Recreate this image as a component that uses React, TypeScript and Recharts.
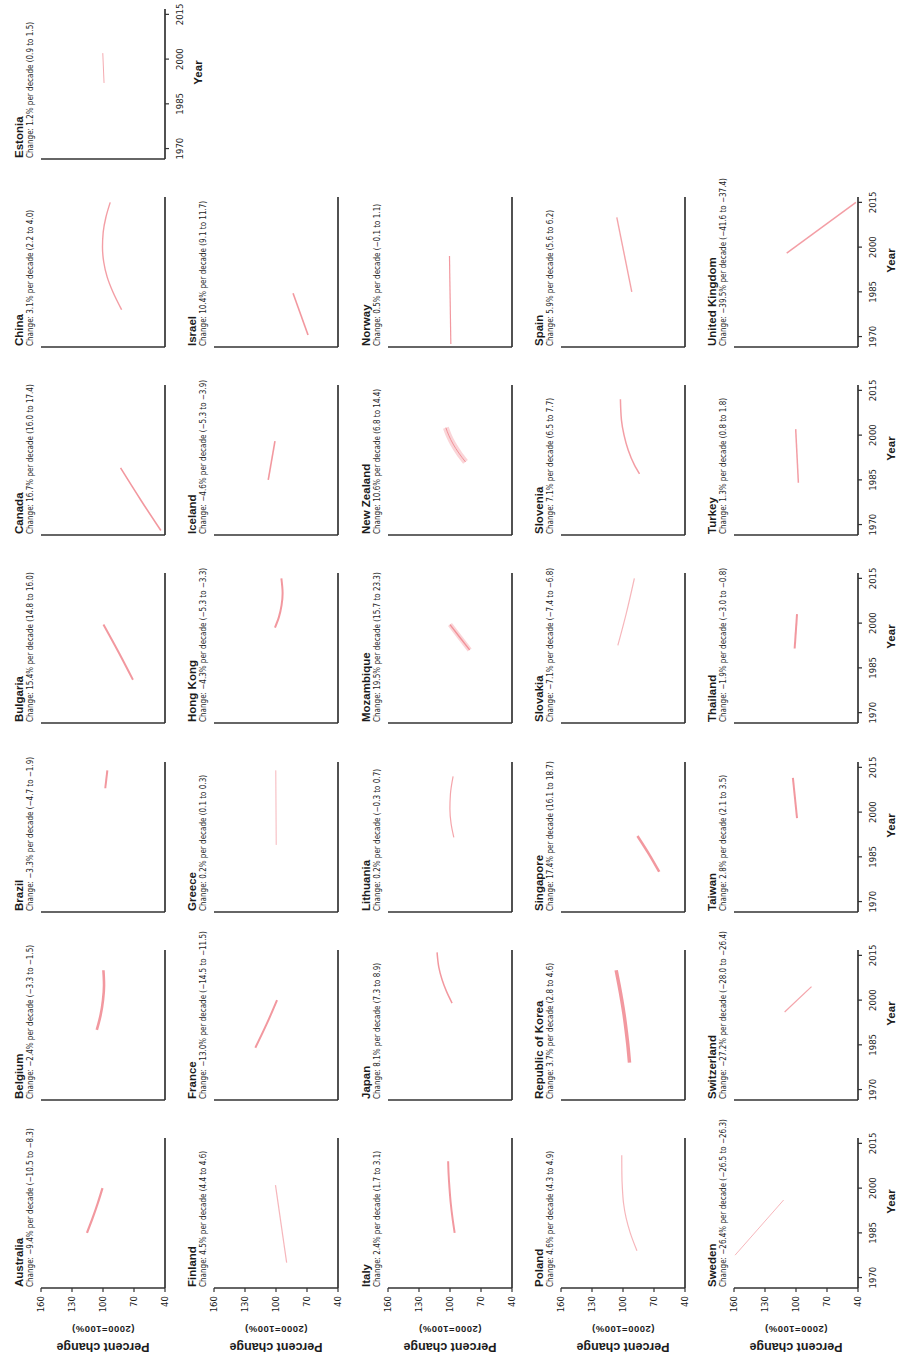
import { Line, LineChart, XAxis, YAxis } from 'recharts';

type Pt = [number, number];

// [year, percent of 2000 level]
const AUSTRALIA: Pt[] = [[1985, 115.5], [1990, 110], [1995, 105], [2000, 100.5]];
const BELGIUM: Pt[] = [[1990, 106], [1995, 102.3], [2000, 100], [2005, 99], [2010, 99.6]];
const BRAZIL: Pt[] = [[2008, 97.8], [2014, 95.8]];
const BULGARIA: Pt[] = [[1981, 71], [1990, 84.5], [1999.5, 99.5]];
const CANADA: Pt[] = [[1968, 44], [1978, 63], [1989, 83]];
const CHINA: Pt[] = [[1979, 82], [1985, 90.5], [1990, 96], [1995, 99.3], [2000, 100.5], [2005, 99.8], [2010, 97.2], [2015, 93]];
const ESTONIA: Pt[] = [[1992, 99], [2002, 100.2]];
const FINLAND: Pt[] = [[1975, 89.7], [2001, 100.5]];
const FRANCE: Pt[] = [[1984, 120], [1992, 109], [2000, 99]];
const GREECE: Pt[] = [[1989, 99.8], [2014, 100.2]];
const HONG_KONG: Pt[] = [[1998.5, 101], [2002, 97.2], [2006, 94.6], [2010, 93.6], [2015, 94.8]];
const ICELAND: Pt[] = [[1985, 107.5], [1998, 101]];
const ISRAEL: Pt[] = [[1970.5, 69], [1984.5, 83.5]];
const ITALY: Pt[] = [[1985, 95.5], [1990, 97.6], [1995, 99.3], [2000, 100.5], [2005, 101.4], [2009, 101.8]];
const JAPAN: Pt[] = [[1999, 98], [2003, 103.5], [2007, 107.8], [2011, 110.8], [2016, 112.5]];
const LITHUANIA: Pt[] = [[1991.5, 96.3], [1996, 98.9], [2001, 100.1], [2006, 99.6], [2012, 97]];
const MOZAMBIQUE: Pt[] = [[1991, 81], [1995, 90], [1999.5, 100]];
const NEW_ZEALAND: Pt[] = [[1991, 85], [1994, 91.5], [1997, 97], [2000, 101.3], [2002.5, 104]];
const NORWAY: Pt[] = [[1967.5, 99.2], [1997, 100.5]];
const POLAND: Pt[] = [[1979, 86.5], [1985, 93], [1990, 97], [1995, 99.5], [2000, 100.6], [2005, 101.1], [2011, 101.2]];
const KOREA: Pt[] = [[1979, 93.7], [1985, 95.3], [1990, 97], [1995, 98.9], [2000, 101.2], [2005, 103.8], [2010, 106.6]];
const SINGAPORE: Pt[] = [[1980, 65], [1986, 75], [1992, 86]];
const SLOVAKIA: Pt[] = [[1992.5, 105], [2003, 97], [2015, 89]];
const SLOVENIA: Pt[] = [[1987, 84], [1990, 89], [1995, 95], [2000, 99], [2005, 101.5], [2012, 102.5]];
const SPAIN: Pt[] = [[1985, 91.5], [2010, 106]];
const SWEDEN: Pt[] = [[1977.5, 159], [1996, 112]];
const SWITZERLAND: Pt[] = [[1996, 111], [2004.5, 85]];
const TAIWAN: Pt[] = [[1998, 99], [2011.5, 103]];
const THAILAND: Pt[] = [[1991.5, 101.3], [2003, 99]];
const TURKEY: Pt[] = [[1984, 97.7], [2002, 100.3]];
const UNITED_KINGDOM: Pt[] = [[1998, 109], [2015, 42]];

const ROWS: string[][] = [
  ['Australia', 'Belgium', 'Brazil', 'Bulgaria', 'Canada', 'China', 'Estonia'],
  ['Finland', 'France', 'Greece', 'Hong Kong', 'Iceland', 'Israel'],
  ['Italy', 'Japan', 'Lithuania', 'Mozambique', 'New Zealand', 'Norway'],
  ['Poland', 'Republic of Korea', 'Singapore', 'Slovakia', 'Slovenia', 'Spain'],
  ['Sweden', 'Switzerland', 'Taiwan', 'Thailand', 'Turkey', 'United Kingdom'],
];

const SERIES: Record<string, Pt[]> = {
  Australia: AUSTRALIA, Belgium: BELGIUM, Brazil: BRAZIL, Bulgaria: BULGARIA, Canada: CANADA,
  China: CHINA, Estonia: ESTONIA, Finland: FINLAND, France: FRANCE, Greece: GREECE,
  'Hong Kong': HONG_KONG, Iceland: ICELAND, Israel: ISRAEL, Italy: ITALY, Japan: JAPAN,
  Lithuania: LITHUANIA, Mozambique: MOZAMBIQUE, 'New Zealand': NEW_ZEALAND, Norway: NORWAY,
  Poland: POLAND, 'Republic of Korea': KOREA, Singapore: SINGAPORE, Slovakia: SLOVAKIA,
  Slovenia: SLOVENIA, Spain: SPAIN, Sweden: SWEDEN, Switzerland: SWITZERLAND, Taiwan: TAIWAN,
  Thailand: THAILAND, Turkey: TURKEY, 'United Kingdom': UNITED_KINGDOM,
};

const CHANGES: Record<string, string> = {
  Australia: 'Change: −9.4% per decade (−10.5 to −8.3)',
  Belgium: 'Change: −2.4% per decade (−3.3 to −1.5)',
  Brazil: 'Change: −3.3% per decade (−4.7 to −1.9)',
  Bulgaria: 'Change: 15.4% per decade (14.8 to 16.0)',
  Canada: 'Change: 16.7% per decade (16.0 to 17.4)',
  China: 'Change: 3.1% per decade (2.2 to 4.0)',
  Estonia: 'Change: 1.2% per decade (0.9 to 1.5)',
  Finland: 'Change: 4.5% per decade (4.4 to 4.6)',
  France: 'Change: −13.0% per decade (−14.5 to −11.5)',
  Greece: 'Change: 0.2% per decade (0.1 to 0.3)',
  'Hong Kong': 'Change: −4.3% per decade (−5.3 to −3.3)',
  Iceland: 'Change: −4.6% per decade (−5.3 to −3.9)',
  Israel: 'Change: 10.4% per decade (9.1 to 11.7)',
  Italy: 'Change: 2.4% per decade (1.7 to 3.1)',
  Japan: 'Change: 8.1% per decade (7.3 to 8.9)',
  Lithuania: 'Change: 0.2% per decade (−0.3 to 0.7)',
  Mozambique: 'Change: 19.5% per decade (15.7 to 23.3)',
  'New Zealand': 'Change: 10.6% per decade (6.8 to 14.4)',
  Norway: 'Change: 0.5% per decade (−0.1 to 1.1)',
  Poland: 'Change: 4.6% per decade (4.3 to 4.9)',
  'Republic of Korea': 'Change: 3.7% per decade (2.8 to 4.6)',
  Singapore: 'Change: 17.4% per decade (16.1 to 18.7)',
  Slovakia: 'Change: −7.1% per decade (−7.4 to −6.8)',
  Slovenia: 'Change: 7.1% per decade (6.5 to 7.7)',
  Spain: 'Change: 5.9% per decade (5.6 to 6.2)',
  Sweden: 'Change: −26.4% per decade (−26.5 to −26.3)',
  Switzerland: 'Change: −27.2% per decade (−28.0 to −26.4)',
  Taiwan: 'Change: 2.8% per decade (2.1 to 3.5)',
  Thailand: 'Change: −1.9% per decade (−3.0 to −0.8)',
  Turkey: 'Change: 1.3% per decade (0.8 to 1.8)',
  'United Kingdom': 'Change: −39.5% per decade (−41.6 to −37.4)',
};

const YEAR_TICKS = [1970, 1985, 2000, 2015];
const PCT_TICKS = [40, 70, 100, 130, 160];
const YEAR_DOMAIN: [number, number] = [1966.5, 2016.8];

// line look per country: width, opacity, optional wide band behind
const LOOK: Record<string, { w: number; o: number; band?: number }> = {
  Australia: { w: 2.2, o: 0.85 }, Belgium: { w: 2.6, o: 0.85 }, Brazil: { w: 2, o: 0.85 },
  Bulgaria: { w: 2, o: 0.85 }, Canada: { w: 1.6, o: 0.85 }, China: { w: 1.4, o: 0.8 },
  Estonia: { w: 1, o: 0.7 }, Finland: { w: 1.2, o: 0.6 }, France: { w: 2, o: 0.85 },
  Greece: { w: 1, o: 0.6 }, 'Hong Kong': { w: 2, o: 0.85 }, Iceland: { w: 1.6, o: 0.85 },
  Israel: { w: 1.6, o: 0.85 }, Italy: { w: 2, o: 0.85 }, Japan: { w: 1.5, o: 0.85 },
  Lithuania: { w: 1.2, o: 0.75 }, Mozambique: { w: 1.4, o: 0.85, band: 5 },
  'New Zealand': { w: 1, o: 0.85, band: 6 }, Norway: { w: 1.2, o: 0.85 }, Poland: { w: 1.2, o: 0.6 },
  'Republic of Korea': { w: 3.5, o: 0.85 }, Singapore: { w: 2.5, o: 0.85 }, Slovakia: { w: 1.2, o: 0.6 },
  Slovenia: { w: 1.5, o: 0.8 }, Spain: { w: 1.4, o: 0.75 }, Sweden: { w: 1, o: 0.6 },
  Switzerland: { w: 1.2, o: 0.75 }, Taiwan: { w: 2, o: 0.85 }, Thailand: { w: 2, o: 0.85 },
  Turkey: { w: 1.5, o: 0.8 }, 'United Kingdom': { w: 1.5, o: 0.8 },
};

const FIG_W = 1359;
const FIG_H = 897;
const BOX_W = 150;
const BOX_H = 124;
const COL_STEP = 188.2;
const ROW_STEP = 173.3;
const LEFT0 = 71;
const TOP0 = 41;
const YW = 40;
const MT = 10;
const MR = 16;
const XH = 40;
const AXIS = '#333333';
const INK = '#1c1c1c';
const PINK = '#f0868e';
const NARROW = "'Liberation Sans Narrow', 'DejaVu Sans Condensed', 'Liberation Sans', sans-serif";
const SANS = "'Liberation Sans', Arial, sans-serif";

const yearX = (year: number) => ((year - YEAR_DOMAIN[0]) / (YEAR_DOMAIN[1] - YEAR_DOMAIN[0])) * BOX_W;

function Panel({ name, row, col }: { name: string; row: number; col: number }) {
  const left = Math.round(LEFT0 + col * COL_STEP);
  const top = Math.round(TOP0 + row * ROW_STEP);
  const showY = col === 0;
  const below = ROWS[row + 1];
  const showX = !below || below.length <= col;
  const data = SERIES[name].map(([year, pct]) => ({ year, pct }));
  const look = LOOK[name];
  const tickStyle = { fill: INK, fontSize: 9.5, fontFamily: NARROW };

  return (
    <div style={{ position: 'absolute', left: left - YW, top: top - MT }}>
      <LineChart
        width={YW + BOX_W + MR}
        height={MT + BOX_H + XH}
        data={data}
        margin={{ top: MT, right: MR, left: 0, bottom: 0 }}
      >
        <XAxis
          type="number"
          dataKey="year"
          domain={YEAR_DOMAIN}
          allowDataOverflow
          ticks={YEAR_TICKS}
          interval={0}
          height={XH}
          axisLine={{ stroke: AXIS, strokeWidth: 1.7 }}
          tickLine={showX ? { stroke: AXIS, strokeWidth: 1.2 } : false}
          tick={showX ? tickStyle : false}
          tickSize={4}
          tickMargin={7}
        />
        <YAxis
          type="number"
          domain={[40, 160]}
          allowDataOverflow
          ticks={PCT_TICKS}
          interval={0}
          width={YW}
          axisLine={{ stroke: AXIS, strokeWidth: 1.7 }}
          tickLine={showY ? { stroke: AXIS, strokeWidth: 1.2 } : false}
          tick={showY ? tickStyle : false}
          tickSize={4}
          tickMargin={4}
        />
        {look.band ? (
          <Line
            type="monotone"
            dataKey="pct"
            stroke={PINK}
            strokeOpacity={0.35}
            strokeWidth={look.band}
            dot={false}
            isAnimationActive={false}
          />
        ) : null}
        <Line
          type="monotone"
          dataKey="pct"
          stroke={PINK}
          strokeOpacity={look.o}
          strokeWidth={look.w}
          dot={false}
          isAnimationActive={false}
        />
      </LineChart>
    </div>
  );
}

function Labels() {
  const items: JSX.Element[] = [];
  ROWS.forEach((names, row) => {
    const top = Math.round(TOP0 + row * ROW_STEP);
    names.forEach((name, col) => {
      const left = Math.round(LEFT0 + col * COL_STEP);
      const below = ROWS[row + 1];
      const showX = !below || below.length <= col;
      items.push(
        <text key={name + 't'} x={left + 1} y={top - 18} fontFamily={SANS} fontWeight="bold" fontSize={11.5} fill={INK}>
          {name}
        </text>,
        <text key={name + 's'} x={left + 1} y={top - 8.5} fontFamily={NARROW} fontSize={8} fill={INK}>
          {CHANGES[name]}
        </text>,
      );
      if (showX) {
        items.push(
          <text
            key={name + 'y'}
            x={left + yearX(1995.5)}
            y={top + BOX_H + 37}
            textAnchor="middle"
            fontFamily={SANS}
            fontWeight="bold"
            fontSize={11.5}
            fill={INK}
          >
            Year
          </text>,
        );
      }
    });
    const cy = top + BOX_H / 2;
    items.push(
      <text
        key={'pc' + row}
        transform={`translate(16.5, ${cy}) rotate(-90)`}
        textAnchor="middle"
        fontFamily={SANS}
        fontWeight="bold"
        fontSize={12.5}
        fill={INK}
      >
        Percent change
      </text>,
      <text
        key={'pb' + row}
        transform={`translate(33, ${cy}) rotate(-90)`}
        textAnchor="middle"
        fontFamily={SANS}
        fontWeight="bold"
        fontSize={9.5}
        letterSpacing={0.5}
        fill={INK}
      >
        (2000=100%)
      </text>,
    );
  });
  return (
    <svg width={FIG_W} height={FIG_H} style={{ position: 'absolute', left: 0, top: 0 }}>
      {items}
    </svg>
  );
}

export default function App() {
  return (
    <div style={{ position: 'absolute', left: 0, top: 0, width: 897, height: 1359, overflow: 'hidden', background: '#fff' }}>
      <div
        style={{
          position: 'absolute',
          left: 0,
          top: 0,
          width: FIG_W,
          height: FIG_H,
          transformOrigin: '0 0',
          transform: `translateY(${FIG_W}px) rotate(-90deg)`,
        }}
      >
        {ROWS.map((names, row) =>
          names.map((name, col) => <Panel key={name} name={name} row={row} col={col} />),
        )}
        <Labels />
      </div>
    </div>
  );
}
